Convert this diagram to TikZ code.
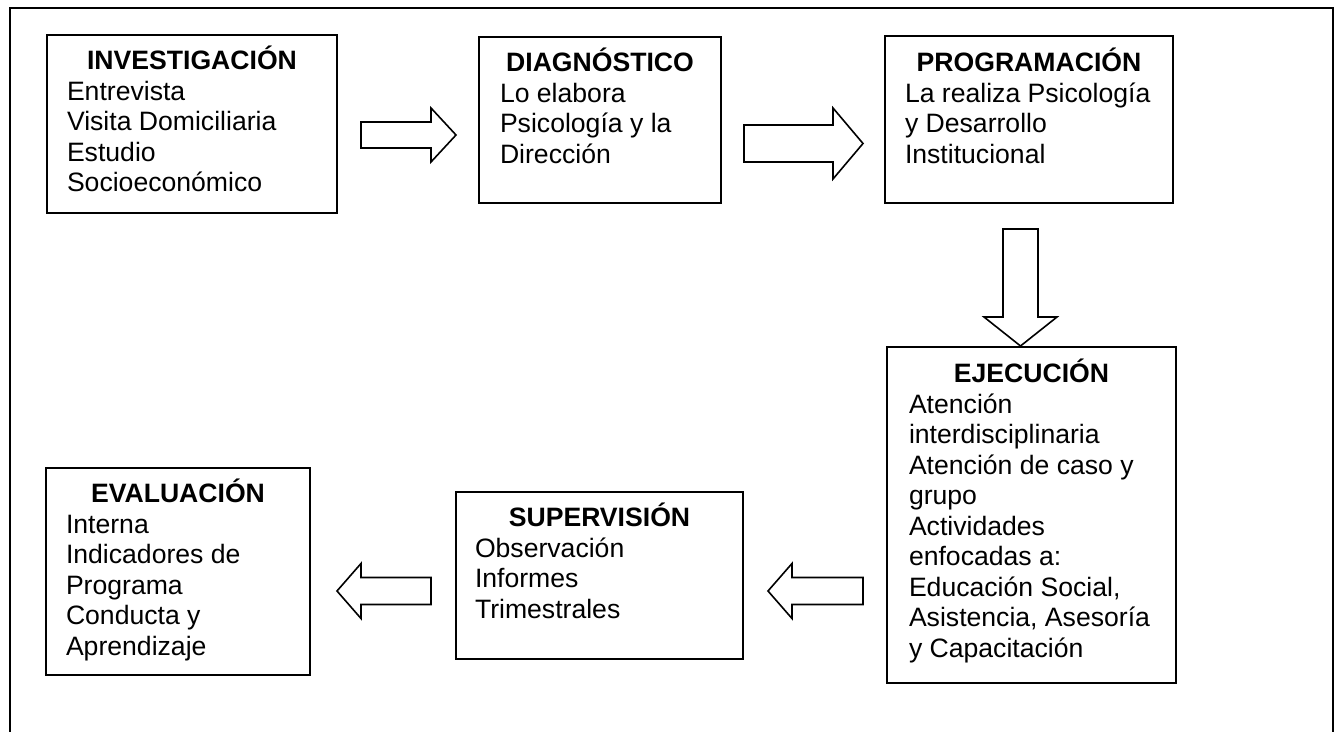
\documentclass[tikz,border=0pt]{standalone}
\usepackage{fontspec}
\setmainfont{Liberation Sans}
\usetikzlibrary{calc}

\tikzset{
  stage/.style={draw, line width=1pt, inner sep=0pt, anchor=base, fill=white},
  harrow/.style n args={3}{draw, fill=white, line width=0.8pt, line join=miter,
    to path={let \p1=(\tikztostart), \p2=(\tikztotarget),
      \p3=($(\tikztotarget)!#3!(\tikztostart)$) in
      (\x1,\y1+#1) -- (\x3,\y1+#1) -- (\x3,\y1+#2) -- (\x2,\y2)
      -- (\x3,\y1-#2) -- (\x3,\y1-#1) -- (\x1,\y1-#1) -- cycle}},
  varrow/.style n args={3}{draw, fill=white, line width=0.8pt, line join=miter,
    to path={let \p1=(\tikztostart), \p2=(\tikztotarget),
      \p3=($(\tikztotarget)!#3!(\tikztostart)$) in
      (\x1+#1,\y1) -- (\x1+#1,\y3) -- (\x1+#2,\y3) -- (\x2,\y2)
      -- (\x1-#2,\y3) -- (\x1-#1,\y3) -- (\x1-#1,\y1) -- cycle}},
}

% stage text: bold centred title, indented list below
\newcommand{\stagetext}[4]{%
  \parbox[t]{#1}{\fontsize{13.3pt}{15.25pt}\selectfont
    \centering\textbf{#3}\par
    \raggedright\leftskip=#2\relax #4}}

\begin{document}
\begin{tikzpicture}[x=0.5pt, y=-0.5pt]
  \useasboundingbox (0,0) rectangle (1335,732);
  \fill[white] (0,0) rectangle (1335,732);

  % page frame (open at the bottom)
  \draw[line width=1.35pt] (10,745) -- (10,8) -- (1333,8) -- (1333,745);

  % stages
  \node[stage, text height=17.5pt, text depth=71.5pt] (inv) at (192,70)
    {\stagetext{145pt}{10pt}{INVESTIGACIÓN}{Entrevista\\Visita Domiciliaria\\Estudio\\Socioeconómico}};
  \node[stage, text height=17.5pt, text depth=65.5pt] (diag) at (600,72)
    {\stagetext{121pt}{10.5pt}{DIAGNÓSTICO}{Lo elabora\\Psicología y la\\Dirección}};
  \node[stage, text height=18pt, text depth=65.5pt] (prog) at (1029,72)
    {\stagetext{144pt}{10pt}{PROGRAMACIÓN}{La realiza Psicología\\y Desarrollo\\Institucional}};
  \node[stage, text height=18pt, text depth=150pt] (ejec) at (1031.5,383)
    {\stagetext{144.5pt}{11pt}{EJECUCIÓN}{Atención\\interdisciplinaria\\Atención de caso y\\grupo\\Actividades\\enfocadas a:\\Educación Social,\\Asistencia, Asesoría\\y Capacitación}};
  \node[stage, text height=17.5pt, text depth=66pt] (sup) at (599.5,527)
    {\stagetext{143.5pt}{9.5pt}{SUPERVISIÓN}{Observación\\Informes\\Trimestrales}};
  \node[stage, text height=17.5pt, text depth=86pt] (eval) at (178,503)
    {\stagetext{132pt}{10pt}{EVALUACIÓN}{Interna\\Indicadores de\\Programa\\Conducta y\\Aprendizaje}};

  % block arrows between stages
  \coordinate (a1s) at ($(inv.east)+(23,11)$);
  \coordinate (a1t) at ($(a1s -| diag.west)+(-22,0)$);
  \draw[harrow={6.5pt}{13.5pt}{12.5pt}] (a1s) to (a1t);

  \coordinate (a2s) at ($(diag.east)+(22,23.5)$);
  \coordinate (a2t) at ($(a2s -| prog.west)+(-21,0)$);
  \draw[harrow={9.25pt}{17.75pt}{15pt}] (a2s) to (a2t);

  \coordinate (a3s) at ($(prog.south)+(-8.5,25)$);
  \coordinate (a3t) at (a3s |- ejec.north);
  \draw[varrow={8.75pt}{18.25pt}{14.5pt}] (a3s) to (a3t);

  \coordinate (a4s) at ($(ejec.west)+(-23,76)$);
  \coordinate (a4t) at ($(a4s -| sup.east)+(24,0)$);
  \draw[harrow={6.75pt}{13.75pt}{12pt}] (a4s) to (a4t);

  \coordinate (a5s) at ($(sup.west)+(-24,15.5)$);
  \coordinate (a5t) at ($(a5s -| eval.east)+(26,0)$);
  \draw[harrow={6.75pt}{13.75pt}{12pt}] (a5s) to (a5t);
\end{tikzpicture}
\end{document}
